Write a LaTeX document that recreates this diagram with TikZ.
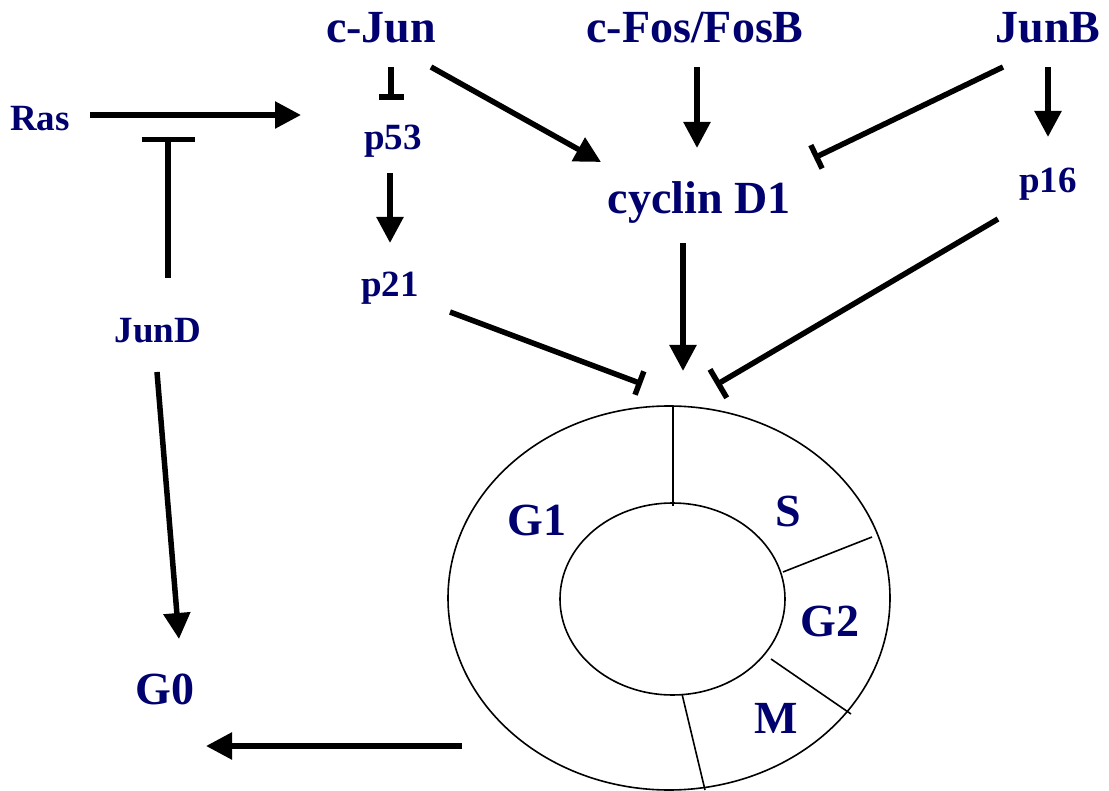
\documentclass[tikz,border=0pt]{standalone}
\usepackage{fontspec}
\setmainfont{Liberation Serif}
\usetikzlibrary{arrows.meta}
\definecolor{navy}{RGB}{0,0,110}
\begin{document}
\begin{tikzpicture}[x=1pt,y=-1pt,
 lbl/.style={text=navy, font=\bfseries\fontsize{46}{46}\selectfont, anchor=base, inner sep=0pt},
 slbl/.style={text=navy, font=\bfseries\fontsize{37}{37}\selectfont, anchor=base, inner sep=0pt},
 act/.style={line width=5.5pt, -{Triangle[length=26pt,width=26pt]}},
 inh/.style={line width=5.5pt, -{Bar[width=#1]}},
 inh/.default=26pt,
 thinline/.style={line width=1.6pt}]
\useasboundingbox[fill=white] (0,0) rectangle (1109,791);

% labels
\node[lbl]  (cjun)   at (381,43)  {c-Jun};
\node[lbl]  (cfos)   at (695,43)  {c-Fos/FosB};
\node[lbl]  (junb)   at (1048,43) {JunB};
\node[lbl]  (cyclin) at (699,214) {cyclin D1};
\node[slbl] (p53)    at (393,150) {p53};
\node[slbl] (p21)    at (390,297) {p21};
\node[slbl] (p16)    at (1048,193){p16};
\node[slbl] (ras)    at (40,131)  {Ras};
\node[slbl] (jund)   at (158,343) {JunD};
\node[lbl]  (g0)     at (165,704) {G0};

% cell cycle ring
\draw[thinline] (669,598) ellipse [x radius=221, y radius=192];
\draw[thinline] (672.5,599) ellipse [x radius=112.5, y radius=96];
\coordinate (cc) at (683,384);
\coordinate (ccout) at (462,746);
\draw[thinline] (673,406) -- (673,506);
\draw[thinline] (783,572) -- (872,537);
\draw[thinline] (771,659) -- (851,714);
\draw[thinline] (682,694) -- (705,790);
\node[lbl] (g1) at (537,536) {G1};
\node[lbl] (s)  at (788,526) {S};
\node[lbl] (g2) at (830,636) {G2};
\node[lbl] (m)  at (776,733) {M};

% connector end points
\coordinate (rasA) at (90,115);   \coordinate (rasB) at (301,115);
\coordinate (jdA) at (168,278);   \coordinate (jdB) at (168,137);
\coordinate (cjA) at (391,67);    \coordinate (cjB) at (391,100);
\coordinate (p53A) at (390,173);  \coordinate (p53B) at (390,243);
\coordinate (cjC) at (431,67);    \coordinate (cyA) at (601,162);
\coordinate (cfA) at (697,67);    \coordinate (cyB) at (697,148);
\coordinate (jbA) at (1003,67);   \coordinate (cyC) at (814,158);
\coordinate (jbB) at (1048,67);   \coordinate (p16B) at (1048,137);
\coordinate (cyD) at (683,243);   \coordinate (ccA) at (683,371);
\coordinate (p21A) at (450,312);  \coordinate (ccB) at (642,384);
\coordinate (p16A) at (998,219);  \coordinate (ccC) at (716,385);
\coordinate (g0B) at (206,746);
\coordinate (jdC) at (157,372);   \coordinate (g0A) at (179,639);

% connectors
\draw[act] (rasA) -- (rasB);
\draw[inh=53pt] (jdA) -- (jdB);
\draw[inh=25pt] (cjA) -- (cjB);
\draw[act] (p53A) -- (p53B);
\draw[act] (cjC) -- (cyA);
\draw[act] (cfA) -- (cyB);
\draw[inh] (jbA) -- (cyC);
\draw[act] (jbB) -- (p16B);
\draw[act] (cyD) -- (ccA);
\draw[inh=25pt] (p21A) -- (ccB);
\draw[inh=33pt] (p16A) -- (ccC);
\draw[act] (ccout) -- (g0B);
\draw[act] (jdC) -- (g0A);
\end{tikzpicture}
\end{document}
